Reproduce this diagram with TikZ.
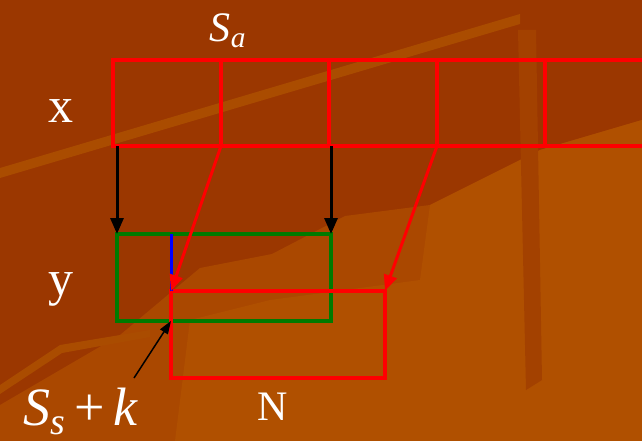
\documentclass[tikz,border=0pt]{standalone}
\usepackage{fontspec}
\setmainfont{Liberation Serif}
\usetikzlibrary{arrows.meta,positioning}
\definecolor{fondo}{RGB}{155,55,0}
\definecolor{vetaclara}{RGB}{170,76,0}
\definecolor{vetamedia}{RGB}{176,80,0}
\definecolor{rojo}{RGB}{255,0,0}
\definecolor{verde}{RGB}{0,122,0}
\definecolor{azul}{RGB}{0,0,255}

\begin{document}
\begin{tikzpicture}[x=1pt,y=-1pt,
celda/.style={draw=rojo,line width=3.5pt,minimum width=108pt,minimum height=86pt,inner sep=0pt,outer sep=0pt},
ventana/.style={line width=3.5pt,minimum width=214pt,minimum height=87pt,inner sep=0pt,outer sep=0pt},
etiqueta/.style={text=white,inner sep=0pt,anchor=base,font=\fontsize{50}{56}\selectfont},
flecha/.style={-{Triangle[length=16pt,width=13pt]},line width=3pt},
fina/.style={-{Triangle[length=13pt,width=9pt]},line width=1.5pt}
]
\useasboundingbox (0,0) rectangle (642,441);
\clip (0,0) rectangle (642,441);

% fondo
\fill[fondo] (0,0) rectangle (642,441);
\fill[vetamedia!70!fondo] (0,441) -- (0,405) -- (120,335) -- (200,268) -- (272,254) -- (345,216)
  -- (430,205) -- (540,150) -- (642,120) -- (642,441) -- cycle;
\fill[vetamedia] (175,441) -- (190,320) -- (270,300) -- (420,280) -- (430,205) -- (540,150)
  -- (642,120) -- (642,441) -- cycle;
\fill[fondo!60!vetamedia] (518,30) -- (536,30) -- (542,380) -- (526,390) -- cycle;
\fill[vetaclara] (0,168) -- (520,14) -- (520,24) -- (0,178) -- cycle;
\fill[vetaclara] (0,385) -- (60,345) -- (150,330) -- (150,337) -- (62,353) -- (0,394) -- cycle;

% fila x
\foreach \i in {1,...,5}
  \node[celda] (x\i) at ({59+108*\i},103) {};

% ventanas
\node[ventana,draw=verde] (yvent) at (224,277.5) {};
\node[ventana,draw=rojo] (nvent) at (278,334.5) {};
\draw[azul,line width=3pt] (nvent.north west |- yvent.north) -- (nvent.north west);

% flechas
\draw[flecha,black] (yvent.north west |- x1.south) -- (yvent.north west);
\draw[flecha,black] (yvent.north east |- x3.south) -- (yvent.north east);
\draw[flecha,rojo] (x2.south west) -- (nvent.north west);
\draw[flecha,rojo] (x4.south west) -- (nvent.north east);

% etiquetas
\node[etiqueta] (xlab) at (61,122) {x};
\node[etiqueta] (ylab) at (61,295) {y};
\node[etiqueta,font=\fontsize{42}{48}\selectfont] (nlab) at (273,420) {N};
\node[etiqueta,font=\fontsize{42}{48}\selectfont] (salab) at (228,42) {\textit{S}\textsubscript{\textit{a}}};
\node[etiqueta,font=\fontsize{54}{60}\selectfont] (sslab) at (81,425)
  {\textit{S}\textsubscript{\textit{s}}\,+\,\textit{k}};
\coordinate (inicio) at (134,378);
\draw[fina,black] (inicio) -- (nvent.west |- yvent.south);
\end{tikzpicture}
\end{document}
